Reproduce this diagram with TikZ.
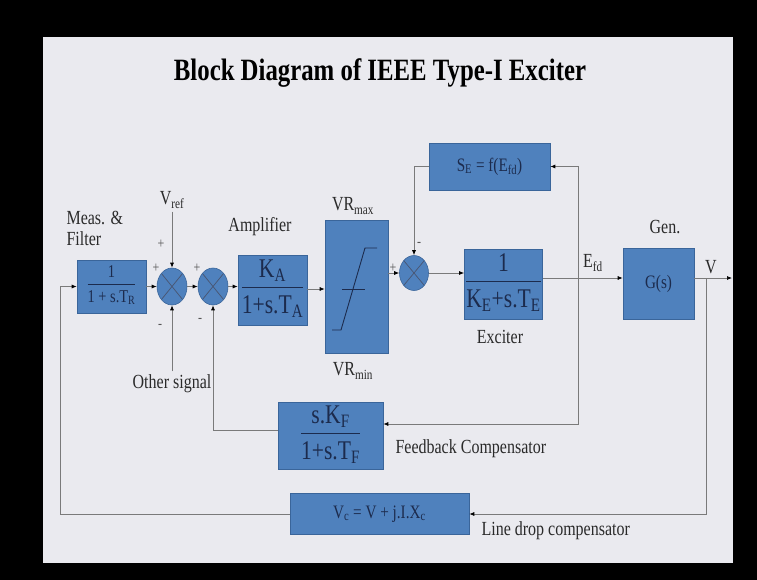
\documentclass[tikz,border=0pt]{standalone}
\usepackage{fontspec}
\setmainfont{Liberation Serif}[FakeStretch=0.8]
\usetikzlibrary{arrows.meta,positioning,shapes.geometric,calc}
\definecolor{cBlk}  {HTML}{4F81BD}
\definecolor{cEdge} {HTML}{3A659A}
\definecolor{cInk}  {HTML}{1C2B4D}
\definecolor{cWire} {HTML}{7A7A7A}
\definecolor{cSlide}{HTML}{EAEAEF}
\definecolor{cText} {HTML}{2A2A2A}
\newcommand{\fsz}[1]{\fontsize{#1}{#1}\selectfont}
\newcommand{\bfrac}[2]{\begin{tabular}{@{}c@{}}#1\\[1pt]\hline\rule{0pt}{0.95em}#2\end{tabular}}
\setlength{\arrayrulewidth}{1.1pt}
\tikzset{
  blk/.style  ={draw=cEdge,fill=cBlk,text=cInk,align=center,inner sep=2pt,
                line width=0.6pt},
  sumj/.style ={ellipse,draw=cEdge,fill=cBlk,minimum width=30pt,minimum height=37pt,
                inner sep=0pt,line width=0.6pt,
                path picture={\draw[cInk!80,line width=0.7pt]
                  (path picture bounding box.north west) -- (path picture bounding box.south east)
                  (path picture bounding box.north east) -- (path picture bounding box.south west);}},
  sig/.style  ={-{Latex[length=5pt,width=4pt,color=black]},draw=cWire,line width=0.7pt},
  lbl/.style  ={text=cText,font=\fsz{20}},
  sgn/.style  ={text=cWire!70!black,font=\fsz{15},inner sep=1pt},
}

\begin{document}
\begin{tikzpicture}[x=1pt,y=-1pt]

% slide
\fill[black] (0,0) rectangle (757,580);
\fill[cSlide] (43,37) rectangle (733,563);
\node[font=\fsz{31}\bfseries,text=black] (title) at (380,73)
  {Block Diagram of IEEE Type-I Exciter};

% --- forward path ---------------------------------------------------------
\node[blk,minimum width=69pt,minimum height=53pt,font=\fsz{18}] (meas) at (111.5,286.5)
  {\bfrac{1}{1 + s.T\textsubscript{R}}};
\node[sumj] (sum1) at (172,286.5) {};
\node[sumj] (sum2) at (213,286.5) {};
\node[blk,minimum width=69pt,minimum height=70pt,font=\fsz{27}] (amp) at (272.5,290)
  {\bfrac{\hspace*{58pt}\llap{\makebox[58pt]{K\textsubscript{A}}}}{1+s.T\textsubscript{A}}};
\node[blk,minimum width=63pt,minimum height=133pt] (lim) at (356.5,286.5) {};
\draw[cInk,line width=0.9pt] (332,330) -- (341,330) -- (365,248) -- (377,248);
\draw[cInk,line width=0.9pt] (342,289) -- (365,289);
\node[sumj,minimum width=29pt,minimum height=35pt] (sum3) at (414,273) {};
\node[blk,minimum width=69pt,minimum height=70pt,font=\fsz{27}] (exc) at (503.5,284)
  {\bfrac{1}{K\textsubscript{E}+s.T\textsubscript{E}}};
\node[blk,minimum width=121pt,minimum height=47pt,font=\fsz{19}] (se) at (489.5,166.5)
  {S\textsubscript{E} = f(E\textsubscript{fd})};
\node[blk,minimum width=71pt,minimum height=71pt,font=\fsz{19}] (gen) at (658.5,283.5)
  {G(s)};

% --- feedback blocks ------------------------------------------------------
\node[blk,minimum width=105pt,minimum height=59pt,font=\fsz{27}] (fbc) at (330.5,436)
  {\bfrac{s.K\textsubscript{F}}{1+s.T\textsubscript{F}}};
\node[blk,minimum width=179pt,minimum height=41pt,font=\fsz{19}] (ldc) at (379.5,514)
  {V\textsubscript{c} = V + j.I.X\textsubscript{c}};

% --- labels ---------------------------------------------------------------
\node[lbl,font=\fontsize{20}{21}\selectfont,align=left,anchor=north west] (measlbl) at (63,208)
  {Meas. \&\\Filter};
\node[lbl] (vref) at (172,200) {V\textsubscript{ref}};
\node[lbl] (oth) at (172,384) {Other signal};
\node[lbl] (amplbl) at (260,227) {Amplifier};
\node[lbl] (vrmax) at (353,206) {VR\textsubscript{max}};
\node[lbl] (vrmin) at (353,371) {VR\textsubscript{min}};
\node[lbl] (exclbl) at (500,337) {Exciter};
\node[lbl] (genlbl) at (665,227) {Gen.};
\node[lbl] (efd) at (593,263) {E\textsubscript{fd}};
\node[lbl] (vlbl) at (711,267) {V};
\node[lbl,anchor=west] (fbclbl) at (392,449) {Feedback Compensator};
\node[lbl,anchor=west] (ldclbl) at (478,531) {Line drop compensator};

% signs
\node[sgn] at (161,244) {+};
\node[sgn] at (156,268) {+};
\node[sgn] at (160,326) {-};
\node[sgn] at (197,268) {+};
\node[sgn] at (200,320) {-};
\node[sgn] at (393,268) {+};
\node[sgn] at (419,244) {-};

% --- connectors -----------------------------------------------------------
\coordinate (tapE)  at (578,278);
\coordinate (fbIn)  at (578,424);
\coordinate (tapV)  at (706,278);
\coordinate (vout)  at (732,278);
\coordinate (lfb)   at (60,514);

\draw[sig] (meas.east) -- (sum1.west);
\draw[sig] (vref.south) -- (sum1.north);
\draw[sig] (sum1.south |- oth.north) -- (sum1.south);
\draw[sig] (sum1.east) -- (sum2.west);
\draw[sig] (sum2.east) -- (sum2.east -| amp.west);
\draw[sig] (amp.east |- 0,289) -- (lim.west |- 0,289);
\draw[sig] (sum3.west -| lim.east) -- (sum3.west);
\draw[sig] (sum3.east) -- (sum3.east -| exc.west);
\draw[sig] (tapE -| exc.east) -- (tapE -| gen.west);
\draw[sig] (tapE) |- (se.east);
\draw[sig] (se.west) -| (sum3.north);
\draw[sig] (tapE) -- (fbIn) -- (fbIn -| fbc.east);
\draw[sig] ($(fbc.west)+(0,-6)$) -| (sum2.south);
\draw[sig] (tapV -| gen.east) -- (vout);
\draw[sig] (tapV) |- (ldc.east);
\draw[sig] (ldc.west) -- (lfb) |- (meas.west);

\end{tikzpicture}
\end{document}
